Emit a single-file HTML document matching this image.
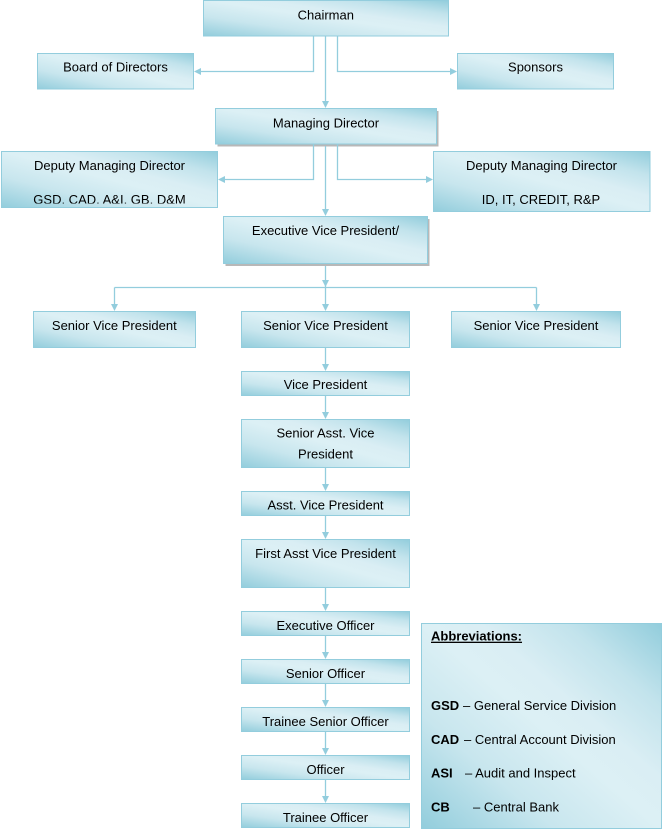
<!DOCTYPE html>
<html>
<head>
<meta charset="utf-8">
<style>
  html, body { margin:0; padding:0; background:#ffffff; }
  svg { display:block; }
  text { font-family: "Liberation Sans", Arial, sans-serif; font-size:13px; fill:#000; }
</style>
</head>
<body>
<svg width="663" height="830" viewBox="0 0 663 830" xmlns="http://www.w3.org/2000/svg">
  <defs>
    <linearGradient id="g" x1="0" y1="1" x2="1" y2="0">
      <stop offset="0" stop-color="#92cddc"/>
      <stop offset="0.28" stop-color="#c8e6ee"/>
      <stop offset="0.5" stop-color="#dcf0f5"/>
      <stop offset="0.62" stop-color="#daeef4"/>
      <stop offset="0.8" stop-color="#c2e3ec"/>
      <stop offset="1" stop-color="#92cddc"/>
    </linearGradient>
    <clipPath id="clipL">
      <rect x="0" y="150" width="220" height="53.5"/>
    </clipPath>
  </defs>

  <!-- shadows -->
  <rect x="217.5" y="111" width="221" height="35.5" fill="#b8b8b8"/>
  <rect x="225.5" y="219" width="204" height="47" fill="#b8b8b8"/>

  <g fill="url(#g)" stroke="#93cddd" stroke-width="1">
    <rect x="203.5" y="0.5" width="245" height="35.5"/>
    <rect x="37.5" y="53.5" width="156" height="35.5"/>
    <rect x="457.5" y="53.5" width="156" height="35.5"/>
    <rect x="215.5" y="108.5" width="221" height="35.5"/>
    <rect x="1.5" y="151.5" width="216" height="56"/>
    <rect x="433.5" y="151.5" width="216.5" height="60"/>
    <rect x="223.5" y="216.5" width="204" height="47"/>
    <rect x="33.5" y="311.5" width="162" height="36"/>
    <rect x="241.5" y="311.5" width="168" height="36"/>
    <rect x="451.5" y="311.5" width="169" height="36"/>
    <rect x="241.5" y="371.5" width="168" height="24"/>
    <rect x="241.5" y="419.5" width="168" height="48"/>
    <rect x="241.5" y="491.5" width="168" height="24"/>
    <rect x="241.5" y="539.5" width="168" height="48"/>
    <rect x="241.5" y="611.5" width="168" height="24"/>
    <rect x="241.5" y="659.5" width="168" height="24"/>
    <rect x="241.5" y="707.5" width="168" height="24"/>
    <rect x="241.5" y="755.5" width="168" height="24"/>
    <rect x="241.5" y="803.5" width="168" height="24"/>
    <rect x="421.5" y="623.5" width="240" height="205"/>
  </g>

  <!-- connectors -->
  <g fill="none" stroke="#93cddd" stroke-width="1.3">
    <path d="M313.5 36 V71.5 H200"/>
    <path d="M337.5 36 V71.5 H451"/>
    <path d="M325.5 36 V102"/>
    <path d="M313.5 144 V179.5 H224"/>
    <path d="M337.5 144 V179.5 H427"/>
    <path d="M325.5 146 V210"/>
    <path d="M325.5 266 V305"/>
    <path d="M114.5 287.5 H536.5"/>
    <path d="M114.5 287.5 V305"/>
    <path d="M536.5 287.5 V305"/>
    <path d="M325.5 347 V365"/>
    <path d="M325.5 395 V413"/>
    <path d="M325.5 467 V485"/>
    <path d="M325.5 515 V533"/>
    <path d="M325.5 587 V605"/>
    <path d="M325.5 635 V653"/>
    <path d="M325.5 683 V701"/>
    <path d="M325.5 731 V749"/>
    <path d="M325.5 779 V797"/>
  </g>
  <g fill="#93cddd">
    <polygon points="194,71.5 201,68 201,75"/>
    <polygon points="457,71.5 450,68 450,75"/>
    <polygon points="325.5,108 322,101 329,101"/>
    <polygon points="218,179.5 225,176 225,183"/>
    <polygon points="433,179.5 426,176 426,183"/>
    <polygon points="325.5,216 322,209 329,209"/>
    <polygon points="325.5,287 322,280 329,280"/>
    <polygon points="325.5,311 322,304 329,304"/>
    <polygon points="114.5,311 111,304 118,304"/>
    <polygon points="536.5,311 533,304 540,304"/>
    <polygon points="325.5,371 322,364 329,364"/>
    <polygon points="325.5,419 322,412 329,412"/>
    <polygon points="325.5,491 322,484 329,484"/>
    <polygon points="325.5,539 322,532 329,532"/>
    <polygon points="325.5,611 322,604 329,604"/>
    <polygon points="325.5,659 322,652 329,652"/>
    <polygon points="325.5,707 322,700 329,700"/>
    <polygon points="325.5,755 322,748 329,748"/>
    <polygon points="325.5,803 322,796 329,796"/>
  </g>

  <!-- labels -->
  <g text-anchor="middle">
    <text x="325.8" y="19.5">Chairman</text>
    <text x="115.5" y="71.5">Board of Directors</text>
    <text x="535.5" y="71.5">Sponsors</text>
    <text x="326" y="127.5">Managing Director</text>
    <text x="109.5" y="170">Deputy Managing Director</text>
    <text x="109.5" y="204" clip-path="url(#clipL)">GSD, CAD, A&amp;I, GB, D&amp;M</text>
    <text x="541.5" y="170">Deputy Managing Director</text>
    <text x="541" y="204">ID, IT, CREDIT, R&amp;P</text>
    <text x="325.5" y="235">Executive Vice President/</text>
    <text x="114.3" y="330">Senior Vice President</text>
    <text x="325.5" y="330">Senior Vice President</text>
    <text x="536" y="330">Senior Vice President</text>
    <text x="325.5" y="389">Vice President</text>
    <text x="325.5" y="437.7">Senior Asst. Vice</text>
    <text x="325.5" y="458.7">President</text>
    <text x="325.5" y="509.3">Asst. Vice President</text>
    <text x="325.5" y="558">First Asst Vice President</text>
    <text x="325.5" y="630">Executive Officer</text>
    <text x="325.5" y="678">Senior Officer</text>
    <text x="325.5" y="726">Trainee Senior Officer</text>
    <text x="325.5" y="774">Officer</text>
    <text x="325.5" y="822">Trainee Officer</text>
  </g>

  <!-- abbreviations -->
  <text x="431" y="640.7" font-weight="bold" text-decoration="underline">Abbreviations:</text>
  <text x="431" y="710" font-weight="bold">GSD</text>
  <text x="463" y="710">– General Service Division</text>
  <text x="431" y="744" font-weight="bold">CAD</text>
  <text x="464" y="744">– Central Account Division</text>
  <text x="431" y="777.5" font-weight="bold">ASI</text>
  <text x="465" y="777.5">– Audit and Inspect</text>
  <text x="431" y="811.5" font-weight="bold">CB</text>
  <text x="473" y="811.5">– Central Bank</text>
</svg>
</body>
</html>
